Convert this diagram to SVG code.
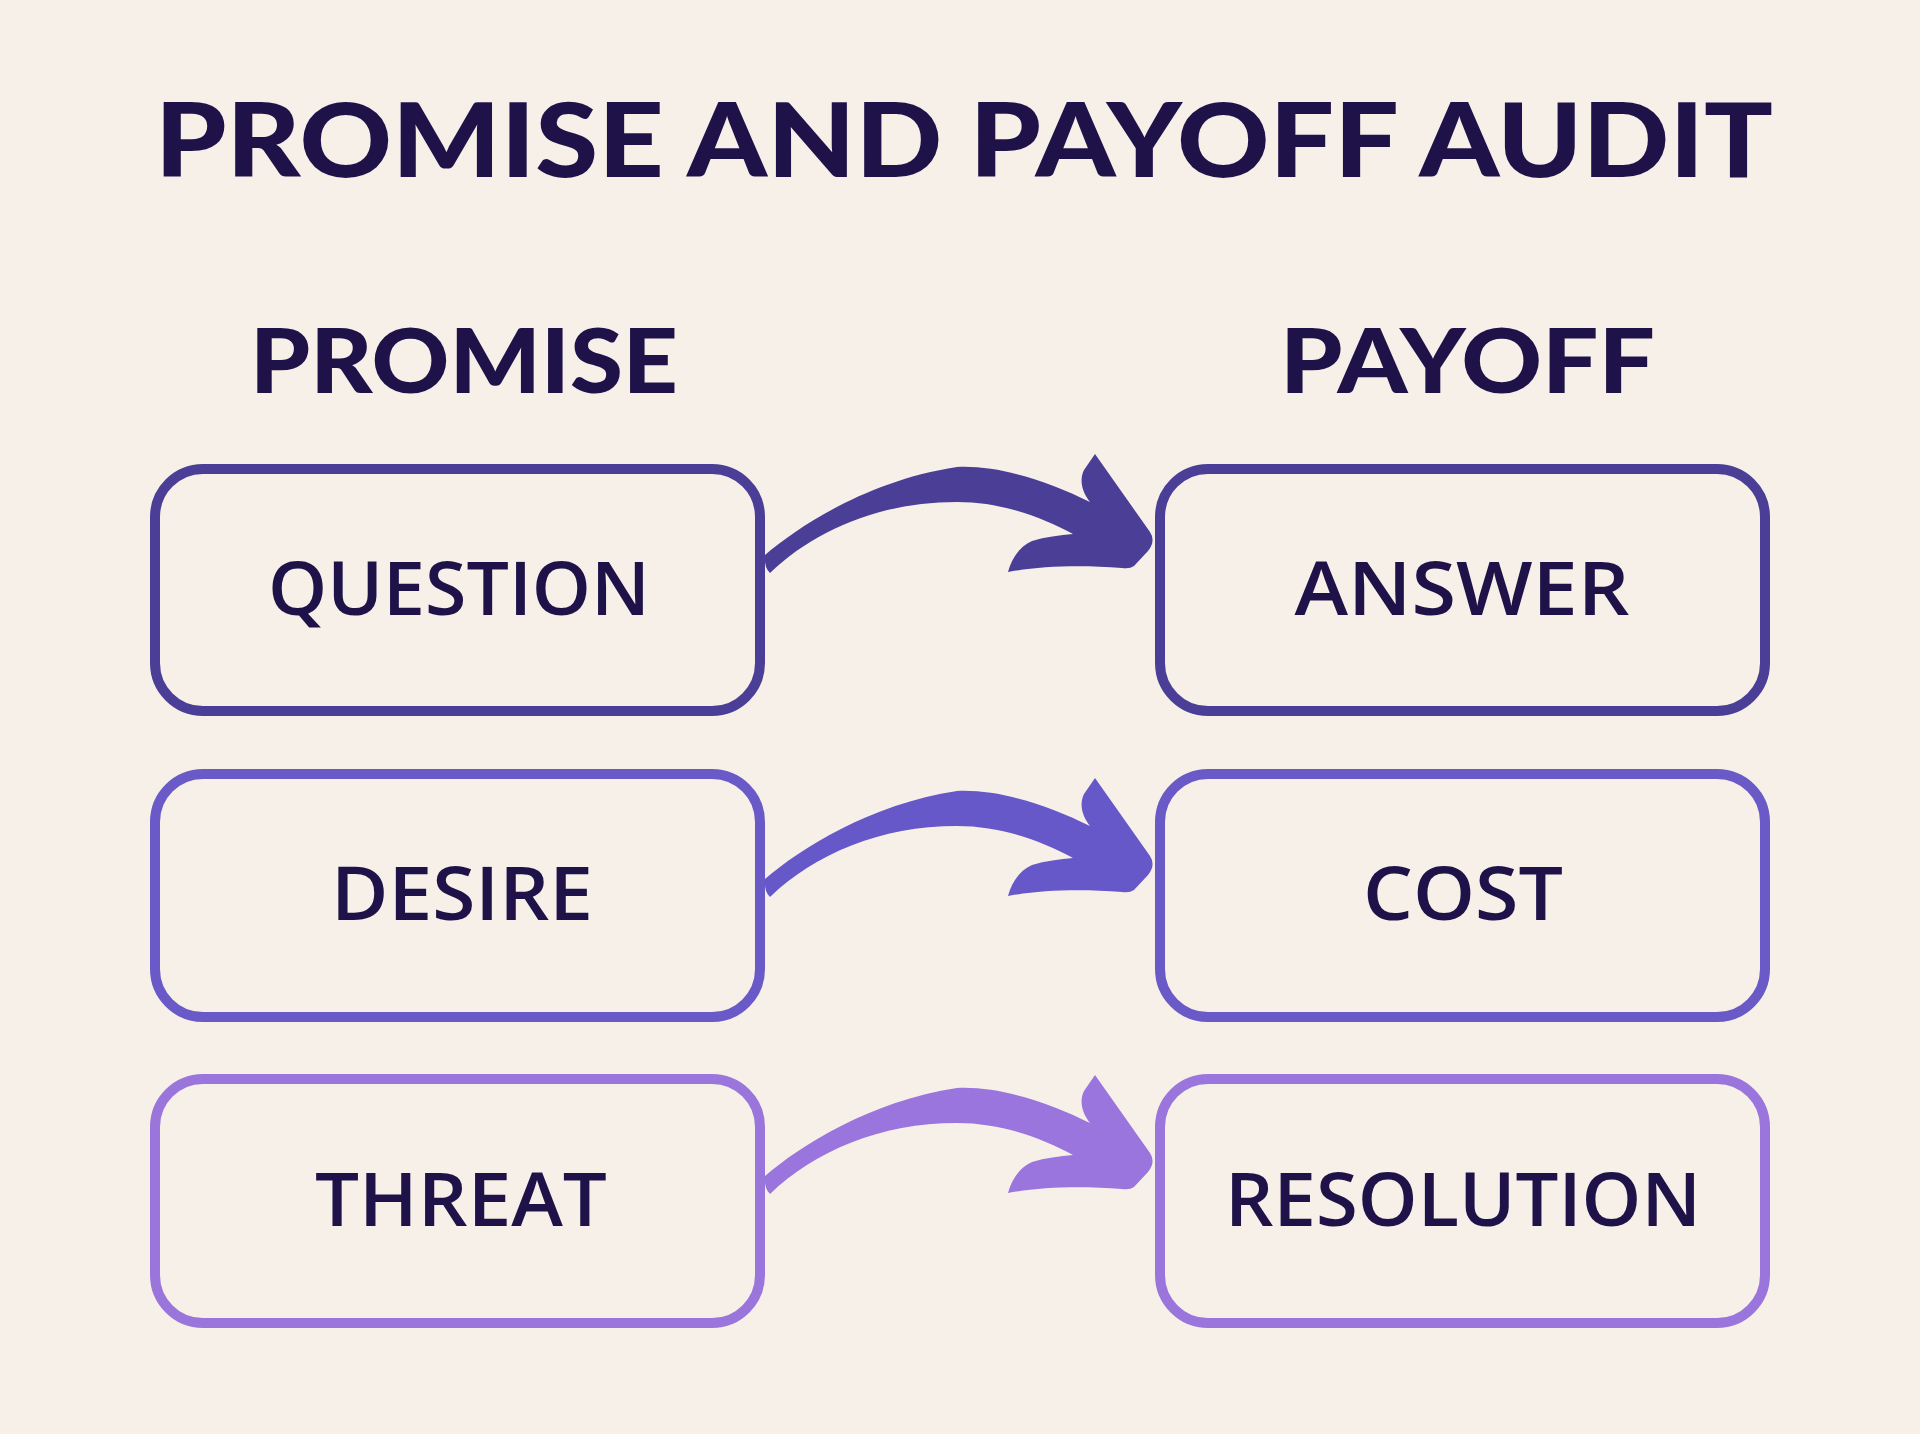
<svg xmlns="http://www.w3.org/2000/svg" width="1920" height="1434" viewBox="0 0 1920 1434">
  <defs>
    <style>
      .title { font-family: Lato, "Liberation Sans", sans-serif; font-weight: 900; fill: #1e1248; }
      .label { font-family: "Open Sans", "Liberation Sans", sans-serif; font-weight: 600; font-size: 74px; fill: #1e1248; text-anchor: middle; }
      .box { fill: none; stroke-width: 10; }
      .r1 { stroke: #4a3e96; }
      .r2 { stroke: #6a5ac8; }
      .r3 { stroke: #9a76dc; }
    </style>
    <path id="arrow" d="M765,555 C800,525 870,480 957,467 C1000,465 1050,482 1090,502 C1082,492 1079,480 1084,470 L1095,454 L1150,532 Q1156,541 1148,551 L1134,566 Q1130,569 1122,568 C1080,565 1040,566 1008,572 C1012,558 1020,546 1032,541 C1045,537 1060,535 1073,534 C1040,516 1000,502 957,502 C880,502 815,530 770,573 Q764,568 765,555 Z"/>
  </defs>
  <rect width="1920" height="1434" fill="#f7f0e9"/>

  <g id="title">
    <text class="title" x="155" y="177" font-size="103" textLength="1618" lengthAdjust="spacingAndGlyphs">PROMISE AND PAYOFF AUDIT</text>
  </g>
  <g id="heading-promise">
    <text class="title" x="250" y="393" font-size="90" textLength="428" lengthAdjust="spacingAndGlyphs">PROMISE</text>
  </g>
  <g id="heading-payoff">
    <text class="title" x="1280" y="393" font-size="90" textLength="375" lengthAdjust="spacingAndGlyphs">PAYOFF</text>
  </g>

  <g id="connectors">
    <use href="#arrow" fill="#4a3e96"/>
    <use href="#arrow" fill="#6658c9" transform="translate(0,324)"/>
    <use href="#arrow" fill="#9a75dd" transform="translate(0,621)"/>
  </g>

  <g id="question">
    <rect class="box r1" x="155" y="469" width="605" height="242" rx="48"/>
    <text class="label" x="459" y="615" textLength="382" lengthAdjust="spacingAndGlyphs">QUESTION</text>
  </g>
  <g id="answer">
    <rect class="box r1" x="1160" y="469" width="605" height="242" rx="48"/>
    <text class="label" x="1462" y="615" textLength="335" lengthAdjust="spacingAndGlyphs">ANSWER</text>
  </g>
  <g id="desire">
    <rect class="box r2" x="155" y="774" width="605" height="243" rx="48"/>
    <text class="label" x="462" y="920" textLength="262" lengthAdjust="spacingAndGlyphs">DESIRE</text>
  </g>
  <g id="cost">
    <rect class="box r2" x="1160" y="774" width="605" height="243" rx="48"/>
    <text class="label" x="1463" y="920" textLength="200" lengthAdjust="spacingAndGlyphs">COST</text>
  </g>
  <g id="threat">
    <rect class="box r3" x="155" y="1079" width="605" height="244" rx="48"/>
    <text class="label" x="461" y="1226" textLength="292" lengthAdjust="spacingAndGlyphs">THREAT</text>
  </g>
  <g id="resolution">
    <rect class="box r3" x="1160" y="1079" width="605" height="244" rx="48"/>
    <text class="label" x="1463" y="1226" textLength="476" lengthAdjust="spacingAndGlyphs">RESOLUTION</text>
  </g>
</svg>
